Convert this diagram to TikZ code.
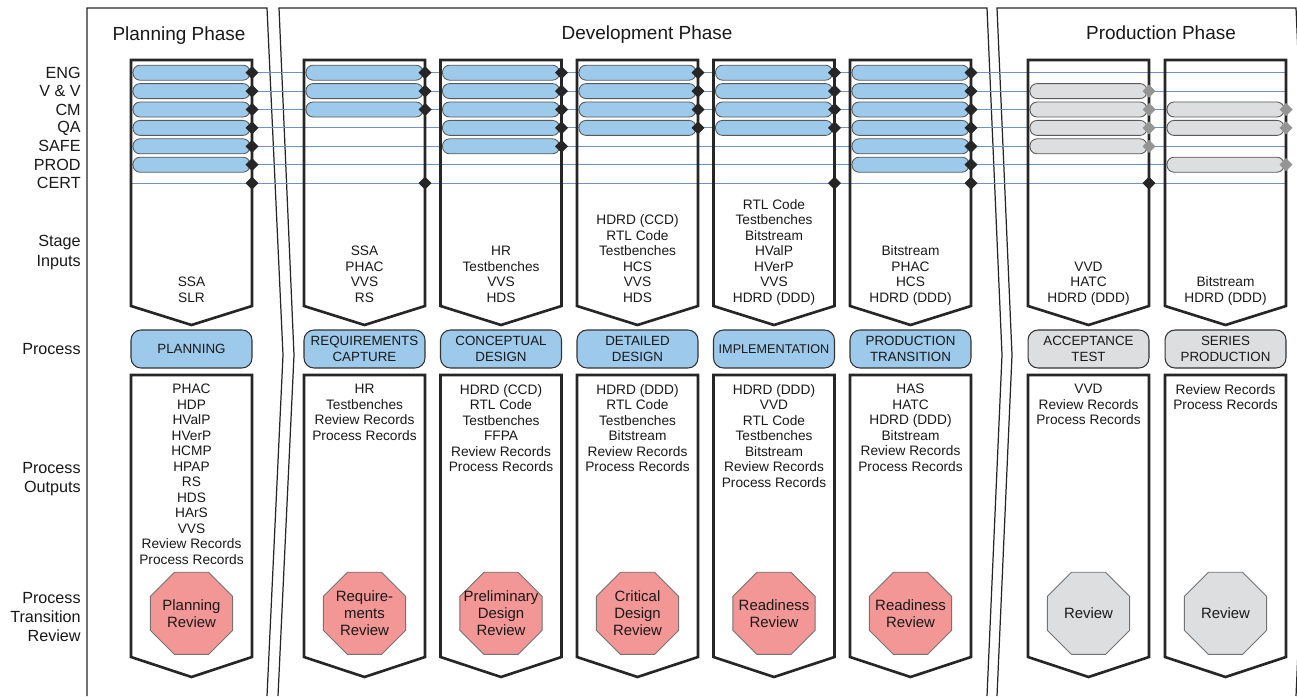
\documentclass[tikz,border=0pt]{standalone}
\usepackage{fontspec}
\setmainfont{Liberation Sans}
\usetikzlibrary{shapes.geometric}
\definecolor{barblue}{RGB}{157,201,234}
\definecolor{bargrey}{RGB}{221,222,224}
\definecolor{revpink}{RGB}{243,150,150}
\definecolor{trackblue}{RGB}{112,146,200}

\begin{document}
\begin{tikzpicture}[x=0.02cm,y=-0.02cm,
  every node/.style={text=black!90, font=\fontsize{7.8}{8.8}\selectfont},
  phase/.style={draw=black!85, line width=0.7pt},
  stage/.style={draw=black!85, line width=1.5pt},
  track/.style={draw=trackblue, line width=0.6pt},
  bar/.style={draw=black!65, line width=0.5pt, rounded corners=0.14cm, fill=barblue},
  greybar/.style={bar, fill=bargrey},
  proc/.style={draw=black!80, line width=0.6pt, rounded corners=0.2cm, fill=barblue,
    minimum width=2.42cm, minimum height=0.76cm, inner sep=0pt, align=center,
    font=\fontsize{7.6}{8.7}\selectfont},
  greyproc/.style={proc, fill=bargrey},
  review/.style={regular polygon, regular polygon sides=8, minimum size=1.78cm,
    inner sep=0pt, draw=black!55, line width=0.5pt, fill=revpink},
  greyreview/.style={review, fill=bargrey},
  revtext/.style={align=center, inner sep=0pt, font=\fontsize{8.5}{9.8}\selectfont},
  inlist/.style={anchor=south, align=center, inner sep=0pt, text depth=0pt},
  outlist/.style={anchor=north, align=center, inner sep=0pt},
  rowname/.style={anchor=east, inner sep=0pt, align=right, font=\fontsize{9.2}{11}\selectfont},
  phasename/.style={anchor=base, font=\fontsize{10.8}{13}\selectfont}]
\clip (0,0) rectangle (1297,696);
\def\dmd#1#2#3{\fill[#3] (#1,#2-6.5) -- (#1+6.5,#2) -- (#1,#2+6.5) -- (#1-6.5,#2) -- cycle;}

% phases
\draw[phase] (87,696) -- (87,8) -- (267,8) -- (283,355) -- (267,696);
\draw[phase] (278,696) -- (294,355) -- (279,8) -- (987,8) -- (1002,355) -- (987,696);
\draw[phase] (997,696) -- (1012,355) -- (997,8) -- (1296,8) -- (1311,355) -- (1296,696);
\node[phasename] (ph-plan) at (179,40.5) {Planning Phase};
\node[phasename] (ph-dev) at (647,39.5) {Development Phase};
\node[phasename] (ph-prod) at (1161,39.5) {Production Phase};

% row names
\foreach \r/\nm in {1/ENG,2/V \& V,3/CM,4/QA,5/SAFE,6/PROD,7/CERT}
  \node[rowname] (row-\r) at (81,{72.7+(\r-1)*18.4}) {\nm};
\node[rowname] (lab-in) at (81,252.5) {Stage\\Inputs};
\node[rowname] (lab-proc) at (81,349) {Process};
\node[rowname] (lab-out) at (81,479) {Process\\Outputs};
\node[rowname] (lab-rev) at (81,617) {Process\\Transition\\Review};

% tracks
\foreach \r in {1,...,7}
  \draw[track] (132,{72.7+(\r-1)*18.4}) -- (1286,{72.7+(\r-1)*18.4});

% stage frames
\foreach \lx in {131,304,440.5,577,713.5,850,1028,1165} {
  \draw[stage] (\lx,60) -- (\lx+121,60) -- (\lx+121,306) -- (\lx+60.5,325) -- (\lx,306) -- cycle;
  \draw[stage] (\lx,375) -- (\lx+121,375) -- (\lx+121,657) -- (\lx+60.5,677) -- (\lx,657) -- cycle;
}

% bars
\foreach \lx/\rows in {131/{1,2,3,4,5,6},304/{1,2,3},440.5/{1,2,3,4,5},577/{1,2,3,4},713.5/{1,2,3,4},850/{1,2,3,4,5,6}}
  \foreach \r in \rows {
    \pgfmathsetmacro\yy{72.7+(\r-1)*18.4}
    \draw[bar] (\lx+2,\yy-7.5) rectangle (\lx+119,\yy+7.5);
    \dmd{\lx+121}{\yy}{black!85}
  }
\foreach \lx/\rows in {1028/{2,3,4,5},1165/{3,4,6}}
  \foreach \r in \rows {
    \pgfmathsetmacro\yy{72.7+(\r-1)*18.4}
    \draw[greybar] (\lx+2,\yy-7.5) rectangle (\lx+119,\yy+7.5);
    \dmd{\lx+121}{\yy}{black!42}
  }
\foreach \rx in {252,425,834.5,971,1149}
  {\dmd{\rx}{183.1}{black!85}}

% inputs and outputs
\foreach \lx/\nm/\ins/\outs in {
  131/plan/{SSA\\SLR}/{PHAC\\HDP\\HValP\\HVerP\\HCMP\\HPAP\\RS\\HDS\\HArS\\VVS\\Review Records\\Process Records},
  304/req/{SSA\\PHAC\\VVS\\RS}/{HR\\Testbenches\\Review Records\\Process Records},
  440.5/con/{HR\\Testbenches\\VVS\\HDS}/{HDRD (CCD)\\RTL Code\\Testbenches\\FFPA\\Review Records\\Process Records},
  577/det/{HDRD (CCD)\\RTL Code\\Testbenches\\HCS\\VVS\\HDS}/{HDRD (DDD)\\RTL Code\\Testbenches\\Bitstream\\Review Records\\Process Records},
  713.5/imp/{RTL Code\\Testbenches\\Bitstream\\HValP\\HVerP\\VVS\\HDRD (DDD)}/{HDRD (DDD)\\VVD\\RTL Code\\Testbenches\\Bitstream\\Review Records\\Process Records},
  850/ptr/{Bitstream\\PHAC\\HCS\\HDRD (DDD)}/{HAS\\HATC\\HDRD (DDD)\\Bitstream\\Review Records\\Process Records},
  1028/acc/{VVD\\HATC\\HDRD (DDD)}/{VVD\\Review Records\\Process Records},
  1165/ser/{Bitstream\\HDRD (DDD)}/{Review Records\\Process Records}} {
  \node[inlist] (in-\nm) at (\lx+60.5,302.5) {\ins};
  \node[outlist] (out-\nm) at (\lx+60.5,384) {\outs};
}

% processes
\foreach \lx/\nm/\txt/\sty in {
  131/plan/PLANNING/proc,
  304/req/{REQUIREMENTS\\CAPTURE}/proc,
  440.5/con/{CONCEPTUAL\\DESIGN}/proc,
  577/det/{DETAILED\\DESIGN}/proc,
  713.5/imp/{\fontsize{7.2}{8.7}\selectfont IMPLEMENTATION}/proc,
  850/ptr/{PRODUCTION\\TRANSITION}/proc,
  1028/acc/{ACCEPTANCE\\TEST}/greyproc,
  1165/ser/{SERIES\\PRODUCTION}/greyproc}
  \node[\sty] (proc-\nm) at (\lx+60.5,349) {\txt};

% reviews
\foreach \lx/\nm/\txt/\sty in {
  131/plan/{Planning\\Review}/review,
  304/req/{Require-\\ments\\Review}/review,
  440.5/con/{Preliminary\\Design\\Review}/review,
  577/det/{Critical\\Design\\Review}/review,
  713.5/imp/{Readiness\\Review}/review,
  850/ptr/{Readiness\\Review}/review,
  1028/acc/Review/greyreview,
  1165/ser/Review/greyreview} {
  \node[\sty] (rev-\nm) at (\lx+60.5,613.3) {};
  \node[revtext] (revt-\nm) at (rev-\nm) {\txt};
}
\end{tikzpicture}
\end{document}
